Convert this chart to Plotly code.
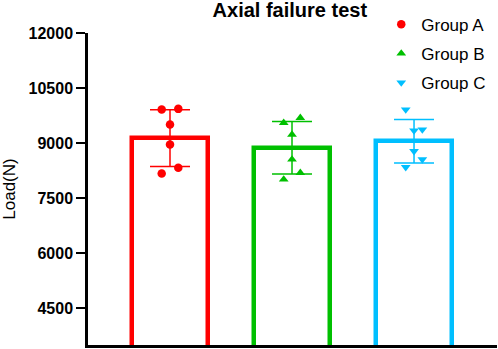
import numpy as np
import plotly.graph_objects as go

groups = ["Group A", "Group B", "Group C"]
colors = ["#FF0000", "#00C000", "#00BFFF"]
symbols = ["circle", "triangle-up", "triangle-down"]

group_a = [9914, 9933, 9506, 8962, 8328, 8173]
group_b = [9552, 9688, 9234, 8554, 8192, 8010]
group_c = [9914, 9370, 9343, 8780, 8554, 8344]
jitter = [-0.068, 0.068, 0.0, 0.0, 0.068, -0.068]

tick_vals = [4500, 6000, 7500, 9000, 10500, 12000]
tick_text = ["4500", "6000", "7500", "9000", "10500", "12000"]

series = [group_a, group_b, group_c]

fig = go.Figure()
for i, (name, vals) in enumerate(zip(groups, series)):
    mean = float(np.mean(vals))
    sd = float(np.std(vals, ddof=1))
    fig.add_trace(go.Bar(
        x=[i], y=[mean], width=0.62,
        marker=dict(color="rgba(0,0,0,0)", line=dict(color=colors[i], width=4.5)),
        error_y=dict(type="data", array=[sd], color=colors[i], thickness=1.5, width=20),
        showlegend=False, hoverinfo="skip",
    ))
for i, (name, vals) in enumerate(zip(groups, series)):
    fig.add_trace(go.Scatter(
        x=[i + j for j in jitter], y=vals, mode="markers", name=name,
        legendgroup=name,
        marker=dict(color=colors[i], symbol=symbols[i], size=8.5, line=dict(width=0)),
    ))

fig.update_layout(
    width=498, height=349,
    margin=dict(l=88, r=1, t=33, b=4, autoexpand=False),
    plot_bgcolor="white", paper_bgcolor="white",
    title=dict(text="<b>Axial failure test</b>", x=0.582, xanchor="center",
               yref="container", y=0.971, yanchor="middle",
               font=dict(family="Arial, Liberation Sans", size=20, color="black")),
    font=dict(family="Arial, Liberation Sans", color="black"),
    showlegend=True,
    legend=dict(x=0.717, y=1.084, xanchor="left", yanchor="top", bgcolor="rgba(0,0,0,0)",
                font=dict(size=17), tracegroupgap=4),
    bargap=0,
)
fig.update_xaxes(range=[-0.672, 2.68], showticklabels=False, ticks="", showgrid=False,
                 zeroline=False, showline=True, linecolor="black", linewidth=3, automargin=False)
fig.update_yaxes(range=[3500, 12000], tickvals=tick_vals, ticktext=tick_text,
                 ticks="outside", ticklen=9, tickwidth=2, tickcolor="black",
                 showgrid=False, zeroline=False, showline=True, linecolor="black", linewidth=2.5,
                 tickfont=dict(family="Arial, Liberation Sans", size=16, color="black", weight="bold"),
                 automargin=False,
                 title=dict(text="Load(N)", font=dict(size=17), standoff=10))

fig.write_html("out.html", config={"displayModeBar": False},
               post_script="document.body.style.margin='0';document.body.style.overflow='hidden';")
